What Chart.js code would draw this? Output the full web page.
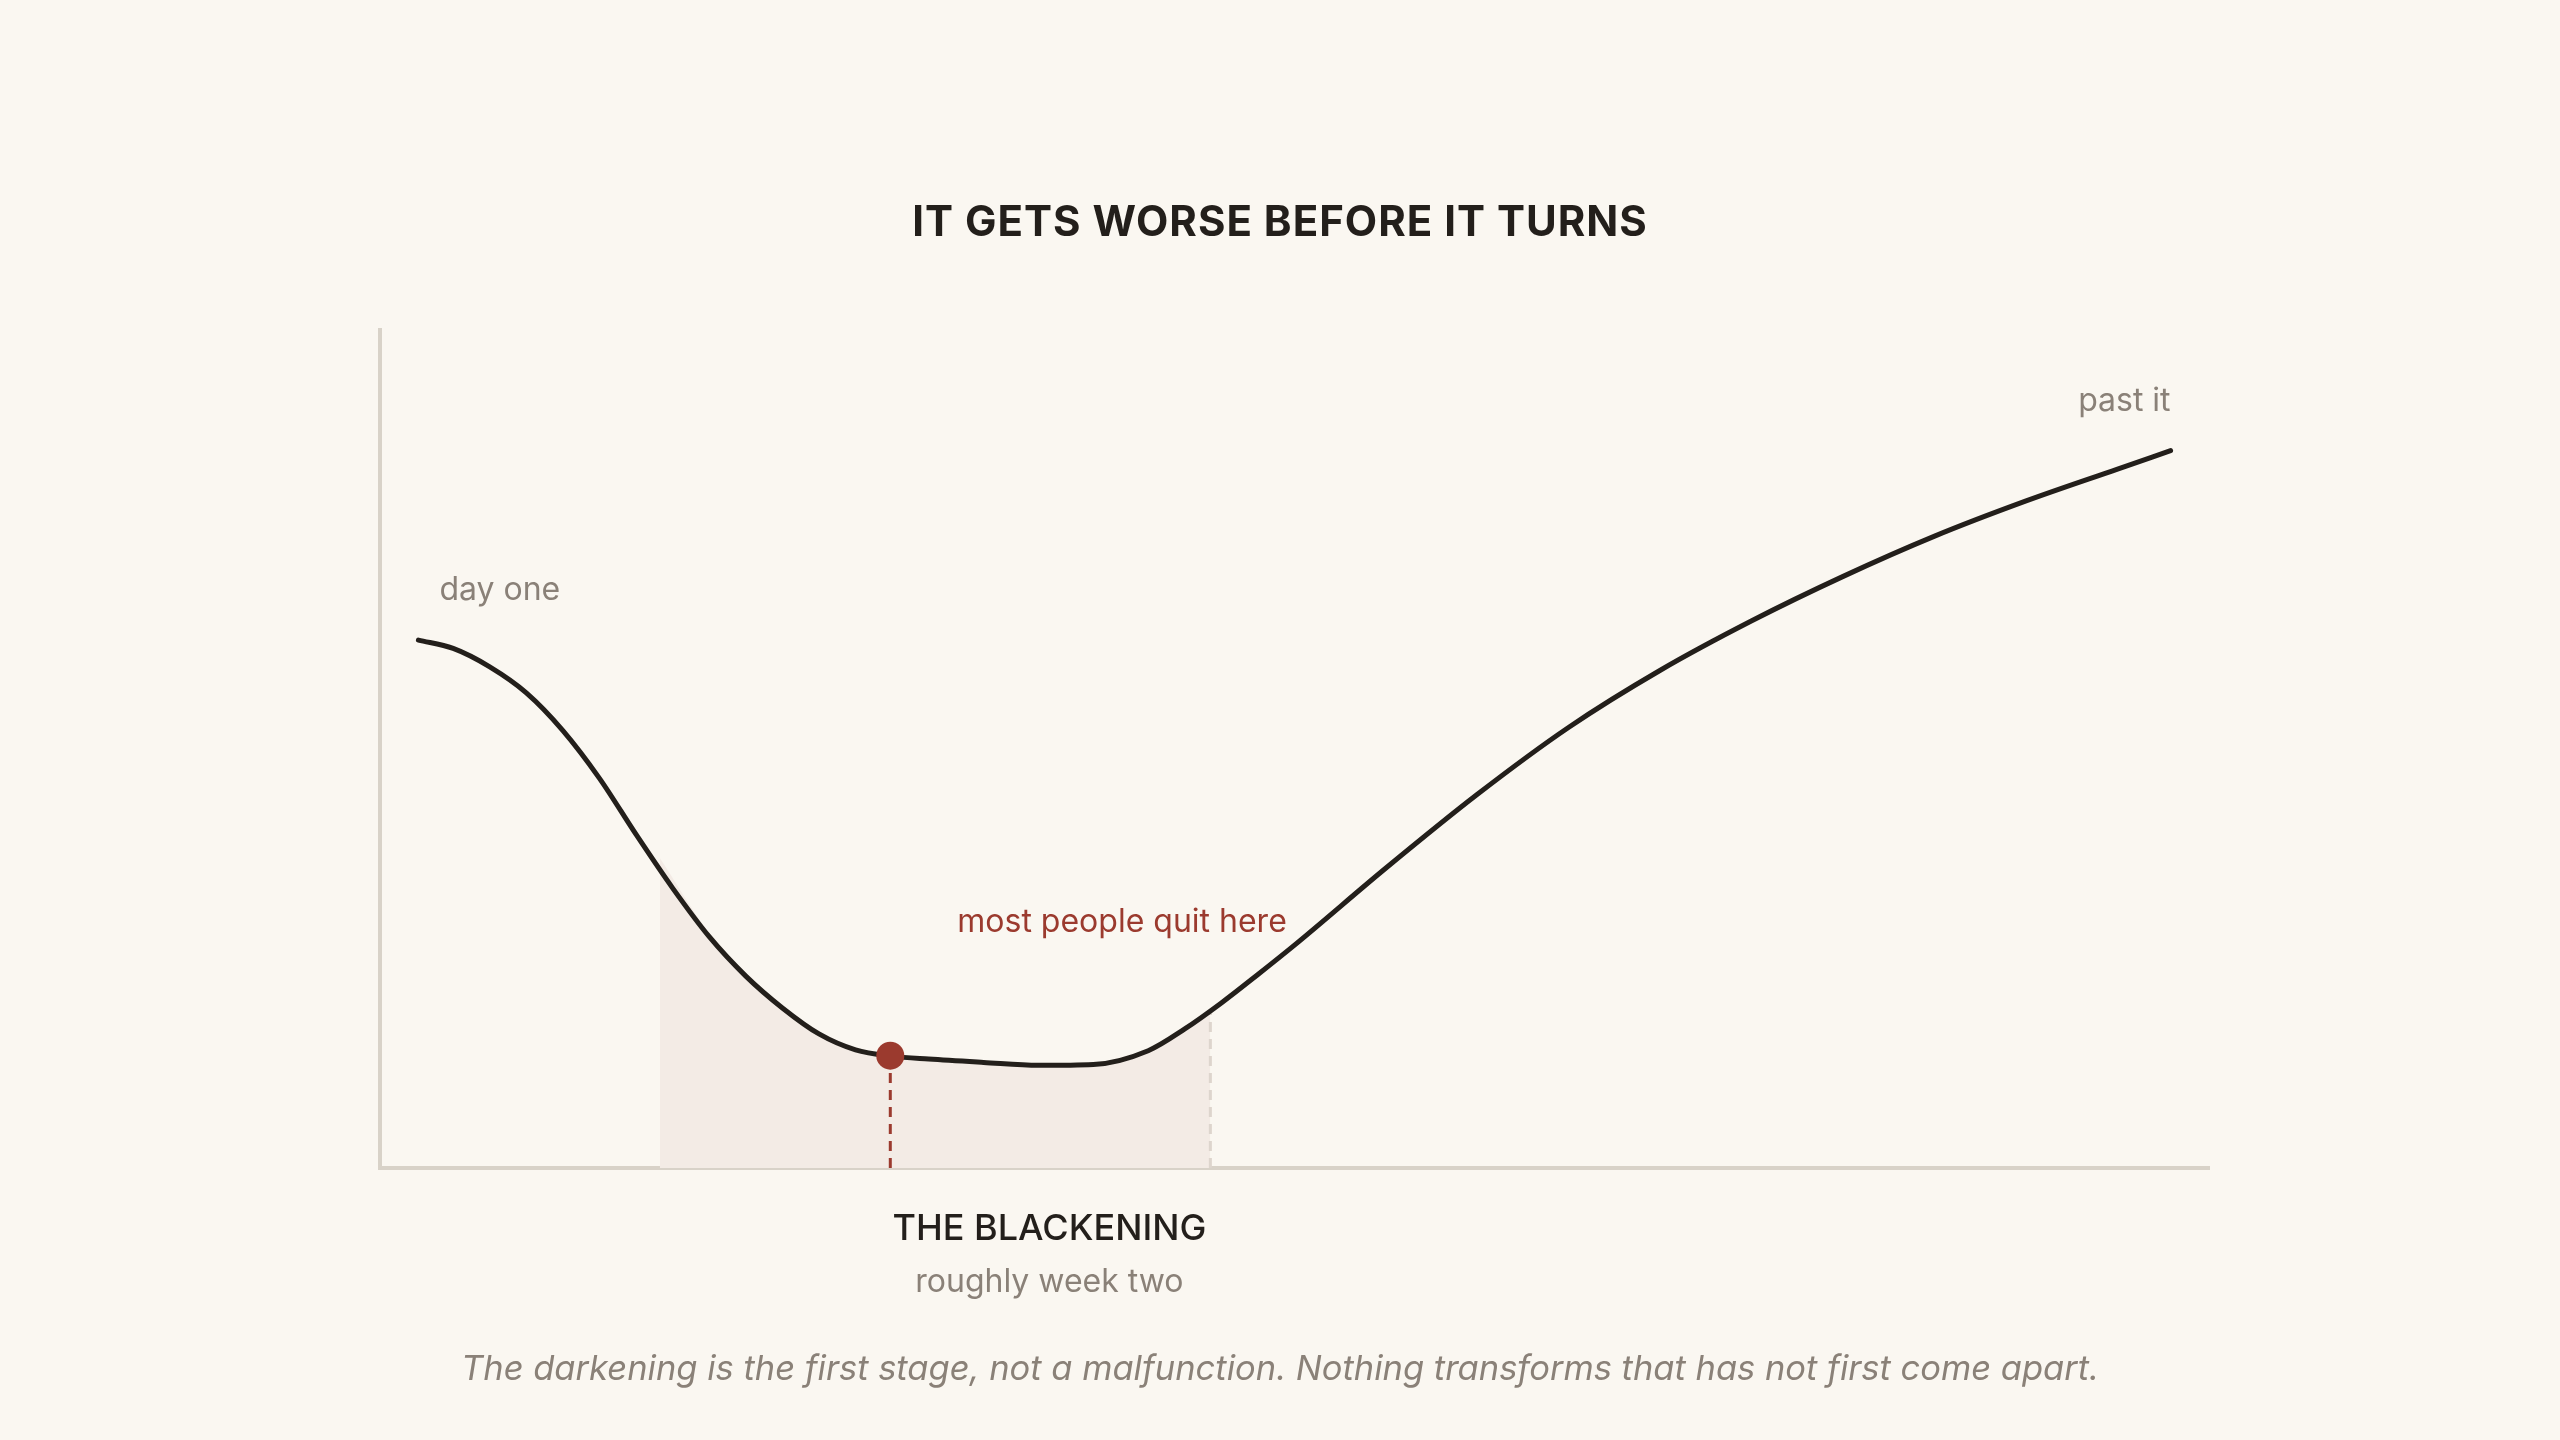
<!DOCTYPE html>
<html>
<head>
<meta charset="utf-8">
<title>It gets worse before it turns</title>
<script src="https://cdn.jsdelivr.net/npm/chart.js@4.4.1/dist/chart.umd.min.js"></script>
<style>
  html, body { margin: 0; padding: 0; background: #faf7f1; }
  canvas { display: block; }
</style>
</head>
<body>
<canvas id="curve-chart" width="2560" height="1440"></canvas>
<script>
// the curve: x is time (0..100), y is how it feels (0..100)
const curveX = [2.1, 4, 6, 8, 10, 12, 14, 16, 18, 20, 22, 24, 26, 28, 30, 33, 36, 39, 42, 44, 46, 48, 50,
                55, 60, 65, 70, 75, 80, 85, 90, 95, 97.9];
const curveY = [63.0, 62.0, 59.8, 56.7, 52.2, 46.5, 39.8, 33.4, 27.6, 22.9, 19.1, 16.0, 14.1, 13.35, 13.0,
                12.6, 12.25, 12.35, 14.0, 16.6, 19.7, 23.1, 26.6, 35.8, 44.6, 52.6, 59.4, 65.3, 70.6, 75.4,
                79.6, 83.4, 85.6];

// the shaded stretch ("the blackening")
const shadeX = [15.3, 18, 20, 22, 24, 26, 28, 30, 33, 36, 39, 42, 44, 45.4];
const shadeY = [37.0, 28.0, 23.1, 19.2, 16.1, 14.2, 13.4, 13.0, 12.6, 12.25, 12.35, 14.0, 16.6, 18.8];

// where most people quit, and where it turns
const quitX = 27.9;
const quitY = 13.4;
const turnX = 45.4;
const turnY = 18.8;
const stageLabelX = 36.6;

const titleText = 'IT GETS WORSE BEFORE IT TURNS';
const startLabel = 'day one';
const endLabel = 'past it';
const quitLabel = 'most people quit here';
const stageLabel = 'THE BLACKENING';
const stageSub = 'roughly week two';
const captionText = 'The darkening is the first stage, not a malfunction. Nothing transforms that has not first come apart.';

const INK = '#231f1b';
const MUTED = '#8a8178';
const RUST = '#9b3a2e';
const RULE = '#d8d2c8';
const SHADE = '#f3ebe5';
const FONT = 'Inter, "Noto Sans", sans-serif';

const curvePoints = curveX.map((x, i) => ({x: x, y: curveY[i]}));
const shadePoints = shadeX.map((x, i) => ({x: x, y: shadeY[i]}));

const textPlugin = {
    id: 'curveText',
    afterDraw(chart) {
        const ctx = chart.ctx;
        const xs = chart.scales.x;
        const ys = chart.scales.y;
        const area = chart.chartArea;
        ctx.save();
        ctx.textBaseline = 'alphabetic';

        ctx.fillStyle = INK;
        ctx.font = '700 42px ' + FONT;
        ctx.textAlign = 'center';
        ctx.letterSpacing = '1px';
        ctx.fillText(titleText, chart.width / 2, 236);
        ctx.letterSpacing = '0px';

        // labels on the curve ends
        const first = curvePoints[0];
        const last = curvePoints[curvePoints.length - 1];
        ctx.font = '400 32px ' + FONT;
        ctx.fillStyle = MUTED;
        ctx.textAlign = 'left';
        ctx.fillText(startLabel, xs.getPixelForValue(first.x) + 21, ys.getPixelForValue(first.y) - 40);
        ctx.textAlign = 'right';
        ctx.fillText(endLabel, xs.getPixelForValue(last.x), ys.getPixelForValue(last.y) - 40);

        ctx.fillStyle = RUST;
        ctx.textAlign = 'left';
        ctx.fillText(quitLabel, xs.getPixelForValue(quitX) + 67, ys.getPixelForValue(quitY) - 124);

        // stage name under the axis
        const sx = xs.getPixelForValue(stageLabelX);
        ctx.textAlign = 'center';
        ctx.fillStyle = INK;
        ctx.font = '500 36px ' + FONT;
        ctx.fillText(stageLabel, sx, area.bottom + 72);
        ctx.fillStyle = MUTED;
        ctx.font = '400 32px ' + FONT;
        ctx.fillText(stageSub, sx, area.bottom + 124);

        ctx.font = 'italic 400 34.5px ' + FONT;
        ctx.fillText(captionText, chart.width / 2, 1380);
        ctx.restore();
    }
};

const ctx = document.getElementById('curve-chart').getContext('2d');
new Chart(ctx, {
    type: 'scatter',
    data: {
        datasets: [
            {
                label: 'quit point',
                data: [{x: quitX, y: quitY}],
                pointRadius: 14,
                pointBackgroundColor: RUST,
                pointBorderWidth: 0,
                showLine: false,
                order: 0
            },
            {
                label: 'curve',
                data: curvePoints,
                showLine: true,
                borderColor: INK,
                borderWidth: 5,
                borderCapStyle: 'round',
                cubicInterpolationMode: 'monotone',
                pointRadius: 0,
                fill: false,
                order: 1
            },
            {
                label: 'quit marker',
                data: [{x: quitX, y: 0}, {x: quitX, y: quitY}],
                showLine: true,
                borderColor: RUST,
                borderWidth: 3,
                borderDash: [10, 7],
                pointRadius: 0,
                order: 2
            },
            {
                label: 'turn marker',
                data: [{x: turnX, y: 0}, {x: turnX, y: turnY}],
                showLine: true,
                borderColor: '#ddd5cd',
                borderWidth: 3,
                borderDash: [10, 7],
                pointRadius: 0,
                order: 2
            },
            {
                label: 'blackening',
                data: shadePoints,
                showLine: true,
                borderWidth: 0,
                borderColor: 'rgba(0,0,0,0)',
                backgroundColor: SHADE,
                cubicInterpolationMode: 'monotone',
                fill: 'origin',
                pointRadius: 0,
                order: 3
            }
        ]
    },
    options: {
        responsive: false,
        animation: false,
        devicePixelRatio: 1,
        layout: {padding: {left: 380, right: 351, top: 330, bottom: 272}},
        plugins: {legend: {display: false}, tooltip: {enabled: false}, title: {display: false}},
        scales: {
            x: {
                type: 'linear', min: 0, max: 100,
                ticks: {display: false},
                grid: {display: false, drawTicks: false},
                border: {display: true, color: RULE, width: 4}
            },
            y: {
                type: 'linear', min: 0, max: 100,
                ticks: {display: false},
                grid: {display: false, drawTicks: false},
                border: {display: true, color: RULE, width: 4}
            }
        }
    },
    plugins: [textPlugin]
});
</script>
</body>
</html>
